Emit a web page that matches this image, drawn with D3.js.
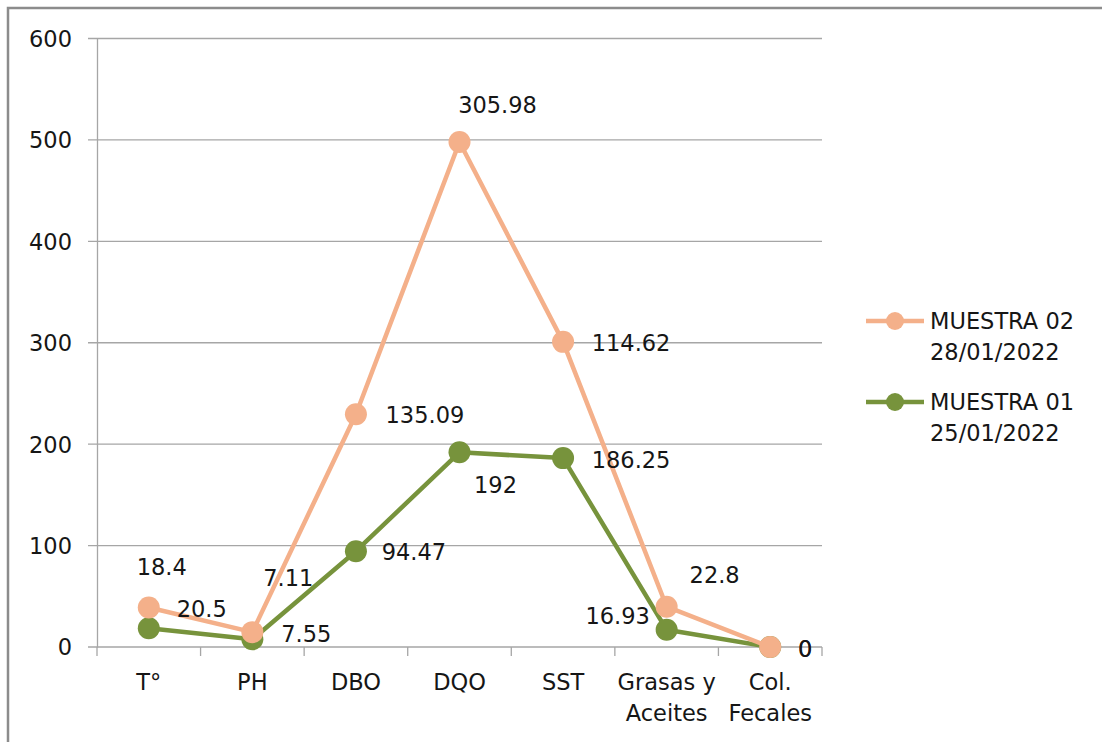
<!DOCTYPE html>
<html><head><meta charset="utf-8">
<script src="https://cdn.jsdelivr.net/npm/d3@7/dist/d3.min.js"></script>
<style>
html,body{margin:0;padding:0;background:#fff;}
svg text{font-family:"DejaVu Sans",sans-serif;fill:#161616;}
</style></head>
<body>
<svg id="chart" width="1102" height="742"></svg>
<script>
// ---- data ----
const categories = [["T°"], ["PH"], ["DBO"], ["DQO"], ["SST"], ["Grasas y", "Aceites"], ["Col.", "Fecales"]];
const muestra01 = [18.4, 7.55, 94.47, 192, 186.25, 16.93, 0];      // base series (green)
const muestra02 = [20.5, 7.11, 135.09, 305.98, 114.62, 22.8, 0];   // stacked on top (orange)
const yTicks = [0, 100, 200, 300, 400, 500, 600];
const seriesNames = [["MUESTRA 02", "28/01/2022"], ["MUESTRA 01", "25/01/2022"]];

// ---- label placement (style) ----
const off01 = [[13,-61],[54,-5],[58,1],[36,33],[68,2],[-49,-14],[35,2]];
const off02 = [[53,1.5],[36,-54],[69,1],[38,-37],[68,1],[48,-32],[35,2]];

const FS = 22.5;
const colors = {m02: "#F4B08A", m01: "#77933C"};
const svg = d3.select("#chart");
const plotL = 97, plotR = 822, plotT = 38.5, plotB = 647;

// frame
svg.append("rect").attr("x", 8).attr("y", 8).attr("width", 1200).attr("height", 800)
  .attr("fill", "none").attr("stroke", "#8c8c8c").attr("stroke-width", 2.5);

const x = d3.scaleBand().domain(d3.range(categories.length)).range([plotL, plotR]);
const y = d3.scaleLinear().domain([0, 600]).range([plotB, plotT]);

// gridlines
svg.append("g").selectAll("line").data(yTicks).join("line")
  .attr("x1", plotL - 9).attr("x2", plotR).attr("y1", d => y(d)).attr("y2", d => y(d))
  .attr("stroke", "#a6a6a6").attr("stroke-width", 1.3);

// y axis
const yAxis = d3.axisLeft(y).tickValues(yTicks).tickSize(0).tickPadding(25);
const gy = svg.append("g").attr("transform", `translate(${plotL},0)`).call(yAxis);
gy.select(".domain").attr("stroke", "#a6a6a6").attr("stroke-width", 1.3);
gy.selectAll("text").attr("font-size", FS).attr("font-family", "DejaVu Sans").attr("fill", "#161616").attr("dy", "0.35em");

// x axis ticks at band edges
const edges = d3.range(categories.length + 1).map(i => plotL + i * x.step());
svg.append("g").selectAll("line").data(edges).join("line")
  .attr("x1", d => d).attr("x2", d => d).attr("y1", plotB).attr("y2", plotB + 9)
  .attr("stroke", "#a6a6a6").attr("stroke-width", 1.3);

// category labels
const cx = i => x(i) + x.bandwidth() / 2;
const catG = svg.append("g");
categories.forEach((lines, i) => {
  lines.forEach((t, j) => {
    catG.append("text").attr("x", cx(i)).attr("y", 682 + j * 31).attr("dy", "0.35em")
      .attr("text-anchor", "middle").attr("font-size", FS).text(t);
  });
});

// stacked values
const s01 = muestra01.slice();
const s02 = muestra02.map((v, i) => v + muestra01[i]);

const line = d3.line().x((d, i) => cx(i)).y(d => y(d));

function drawSeries(vals, color) {
  svg.append("path").datum(vals).attr("d", line).attr("fill", "none")
    .attr("stroke", color).attr("stroke-width", 4.5).attr("stroke-linejoin", "round");
  svg.append("g").selectAll("circle").data(vals).join("circle")
    .attr("cx", (d, i) => cx(i)).attr("cy", d => y(d)).attr("r", 11).attr("fill", color);
}
drawSeries(s01, colors.m01);
drawSeries(s02, colors.m02);

function drawLabels(vals, stacked, offs) {
  svg.append("g").selectAll("text").data(vals).join("text")
    .attr("x", (d, i) => cx(i) + offs[i][0]).attr("y", (d, i) => y(stacked[i]) + offs[i][1])
    .attr("dy", "0.35em").attr("text-anchor", "middle").attr("font-size", FS)
    .text(d => d);
}
drawLabels(muestra01, s01, off01);
drawLabels(muestra02, s02, off02);

// legend
const leg = [{name: seriesNames[0], color: colors.m02, y: 321}, {name: seriesNames[1], color: colors.m01, y: 402}];
const lg = svg.append("g");
leg.forEach(l => {
  lg.append("line").attr("x1", 866).attr("x2", 924).attr("y1", l.y).attr("y2", l.y)
    .attr("stroke", l.color).attr("stroke-width", 4.5);
  lg.append("circle").attr("cx", 895).attr("cy", l.y).attr("r", 9).attr("fill", l.color);
  l.name.forEach((t, j) => {
    lg.append("text").attr("x", 930).attr("y", l.y + j * 31).attr("dy", "0.35em")
      .attr("font-size", FS).text(t);
  });
});
</script>
</body></html>
